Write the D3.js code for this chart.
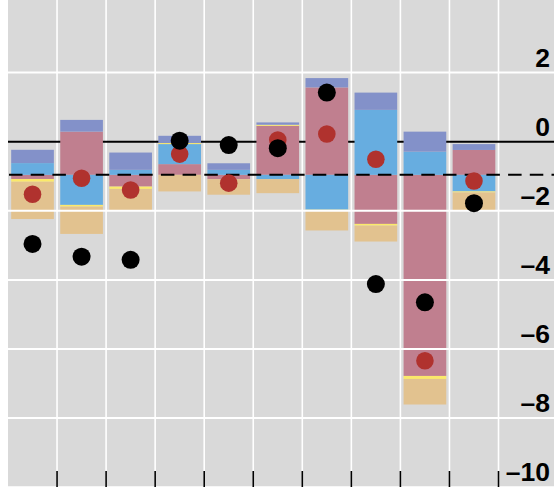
<!DOCTYPE html>
<html><head><meta charset="utf-8">
<script src="https://cdn.jsdelivr.net/npm/d3@7"></script>
<style>html,body{margin:0;padding:0;background:#fff;} svg{display:block;}</style>
</head><body>
<svg id="chart" width="554" height="487"></svg>
<script>
// ---- data ----
const categories = ["1","2","3","4","5","6","7","8","9","10"];
const seriesNames = ["pink","blue","yellow","tan","purple"];
const pinkValues   = [-0.12, 1.25, -0.34, 0.31, -0.125, 1.42, 2.53, -1.42, -5.82, 0.72];
const blueValues   = [0.34, -0.87, 0.145, 0.58, 0.145, -0.125, -1.01, 1.88, 0.67, -0.48];
const yellowValues = [-0.08, -0.05, -0.067, 0.03, 0, 0.03, -0.03, -0.05, -0.087, -0.03];
const tanValues    = [-1.08, -0.79, -0.61, -0.48, -0.45, -0.405, -0.57, -0.46, -0.74, -0.52];
const purpleValues = [0.385, 0.34, 0.50, 0.21, 0.19, 0.067, 0.27, 0.50, 0.58, 0.17];
const redDotValues   = [-1.52, -1.06, -1.40, -0.36, -1.20, 0.05, 0.22, -0.51, -6.34, -1.14];
const blackDotValues = [-2.96, -3.33, -3.42, 0.03, -0.10, -0.19, 1.42, -4.12, -4.65, -1.78];
const baselineValue = -0.96;
const yTickValues = [-10, -8, -6, -4, -2, 0, 2];
const yTickLabels = ["\u201310", "\u20138", "\u20136", "\u20134", "\u20132", "0", "2"];

// ---- styles ----
const colors = {pink:"#c07f8f", blue:"#67ade0", yellow:"#fbe96a", tan:"#e2c28f", purple:"#8391c9"};
const W = 554, H = 487;
const plotLeft = 8, barsRight = 498.5;

const svg = d3.select("#chart");

const table = categories.map((c, i) => ({
  cat: c, pink: pinkValues[i], blue: blueValues[i], yellow: yellowValues[i],
  tan: tanValues[i], purple: purpleValues[i]
}));

const xBand = d3.scaleBand().domain(categories).range([plotLeft, barsRight]).padding(0);
const inset = xBand.step() * 0.065;
const y = d3.scaleLinear().domain([-10, 4.1]).range([487.2, 0]);

const stack = d3.stack().keys(seriesNames).offset(d3.stackOffsetDiverging);
const stacked = stack(table);

// background
svg.append("rect").attr("x", plotLeft).attr("y", 0).attr("width", W - plotLeft).attr("height", H).attr("fill", "#d9d9d9");

// vertical grid lines at band boundaries
const boundaries = categories.map(c => xBand(c) + xBand.step());
svg.append("g").selectAll("line").data(boundaries).join("line")
  .attr("x1", d => d).attr("x2", d => d).attr("y1", 0).attr("y2", H)
  .attr("stroke", "#fff").attr("stroke-width", 1.6);

// zero line (behind bars)
svg.append("line").attr("x1", plotLeft).attr("x2", W).attr("y1", y(0)).attr("y2", y(0))
  .attr("stroke", "#000").attr("stroke-width", 2);

// bars
svg.append("g").selectAll("g").data(stacked).join("g")
  .attr("fill", s => colors[s.key])
  .selectAll("rect").data(s => s).join("rect")
  .attr("x", d => xBand(d.data.cat) + inset)
  .attr("width", xBand.bandwidth() - 2 * inset)
  .attr("y", d => Math.min(y(baselineValue + d[0]), y(baselineValue + d[1])))
  .attr("height", d => Math.abs(y(baselineValue + d[0]) - y(baselineValue + d[1])));

// horizontal grid lines (on top of bars)
svg.append("g").selectAll("line").data(yTickValues.filter(v => v !== 0)).join("line")
  .attr("x1", plotLeft).attr("x2", W).attr("y1", d => y(d)).attr("y2", d => y(d))
  .attr("stroke", "#fff").attr("stroke-width", 2);

// dashed baseline
svg.append("line").attr("x1", plotLeft + 1).attr("x2", W).attr("y1", y(baselineValue)).attr("y2", y(baselineValue))
  .attr("stroke", "#000").attr("stroke-width", 2).attr("stroke-dasharray", "13.5 8.2");

// red dots
svg.append("g").selectAll("circle").data(redDotValues).join("circle")
  .attr("cx", (d, i) => xBand(categories[i]) + xBand.bandwidth() / 2)
  .attr("cy", d => y(d)).attr("r", 8.8).attr("fill", "#b0322e");

// black dots
svg.append("g").selectAll("circle").data(blackDotValues).join("circle")
  .attr("cx", (d, i) => xBand(categories[i]) + xBand.bandwidth() / 2)
  .attr("cy", d => y(d)).attr("r", 9).attr("fill", "#000");

// y tick labels
svg.append("g").selectAll("text").data(yTickValues).join("text")
  .attr("x", 550).attr("y", d => y(d) - 6)
  .attr("text-anchor", "end")
  .attr("font-family", "'Liberation Sans', Arial, Helvetica, sans-serif")
  .attr("font-size", 26.5).attr("font-weight", "bold").attr("fill", "#000")
  .text((d, i) => yTickLabels[i]);

// bottom tick marks
svg.append("g").selectAll("line").data(boundaries).join("line")
  .attr("x1", d => d).attr("x2", d => d).attr("y1", 471).attr("y2", H)
  .attr("stroke", "#000").attr("stroke-width", 1.6);
</script>
</body></html>
